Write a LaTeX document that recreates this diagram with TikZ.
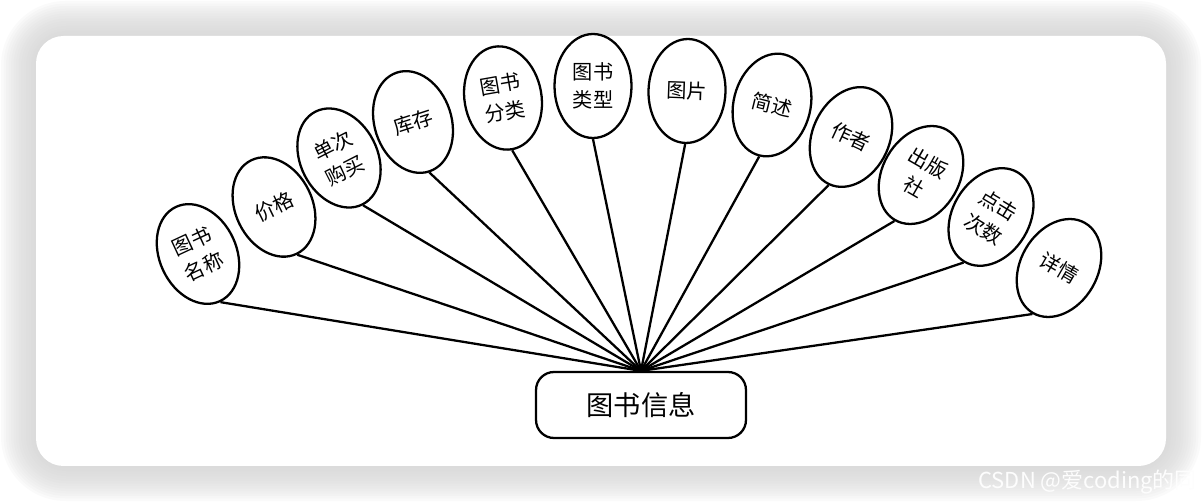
\documentclass[tikz,border=0pt]{standalone}
\usepackage{fontspec}
\setmainfont{Noto Sans CJK SC}
\usetikzlibrary{shapes.geometric}
\definecolor{markwhite}{RGB}{253,253,253}

\begin{document}
\begin{tikzpicture}[x = 0.02cm, y = -0.02cm,
  attr/.style = {draw, ellipse, line width = 1.3pt, fill = white,
    minimum width = 1.54cm, minimum height = 2.08cm, inner sep = 0pt,
    align = center, font = \fontsize{11.5}{16}\selectfont},
  entity/.style = {draw, rounded corners = 0.36cm, line width = 1.3pt, fill = white,
    minimum width = 4.2cm, minimum height = 1.32cm, font = \fontsize{15.5}{18}\selectfont},
  link/.style = {line width = 1.3pt}]
  \useasboundingbox (0, 0) rectangle (1202, 502);
  % card and its shadow
  \foreach \i in {1, ..., 14}
  {
  \pgfmathsetmacro{\rr}{17 + 1.4*\i}
  \fill[black!18, fill opacity = 0.1, rounded corners = \rr pt] ({36 - 2.5*\i}, {36 - 2.5*\i}) rectangle ({1166 + 2.5*\i}, {466 + 2.5*\i});
  }
  \fill[white, rounded corners = 0.55cm] (36, 36) rectangle (1166, 466);
  \node[anchor = west, inner sep = 0pt, text = markwhite, font = \fontsize{12.5}{14}\selectfont] at (978, 482) (mark) {CSDN @爱coding的同};
  % entity and attributes
  \node[entity] at (641, 405) (info) {图书信息};
  \node[attr, rotate = 25] at (198, 254) (name) {图书\\名称};
  \node[attr, rotate = 26] at (274, 207) (price) {价格};
  \node[attr, rotate = 27] at (339, 158) (buy) {单次\\购买};
  \node[attr, rotate = 18] at (413, 122) (stock) {库存};
  \node[attr, rotate = 10] at (503, 98) (cat) {图书\\分类};
  \node[attr, rotate = 0] at (593, 86) (kind) {图书\\类型};
  \node[attr, rotate = -2] at (687, 91) (pic) {图片};
  \node[attr, rotate = -14] at (772, 105) (desc) {简述};
  \node[attr, rotate = -25] at (851, 137) (author) {作者};
  \node[attr, rotate = -30] at (921, 175) (press) {出版\\社};
  \node[attr, rotate = -31] at (991, 217) (clicks) {点击\\次数};
  \node[attr, rotate = -30] at (1059, 268) (detail) {详情};
  \foreach \n in {name, price, buy, stock, cat, kind, pic, desc, author, press, clicks, detail}
  {
  \draw[link] (info.north) -- (\n.south);
  }
\end{tikzpicture}
\end{document}
